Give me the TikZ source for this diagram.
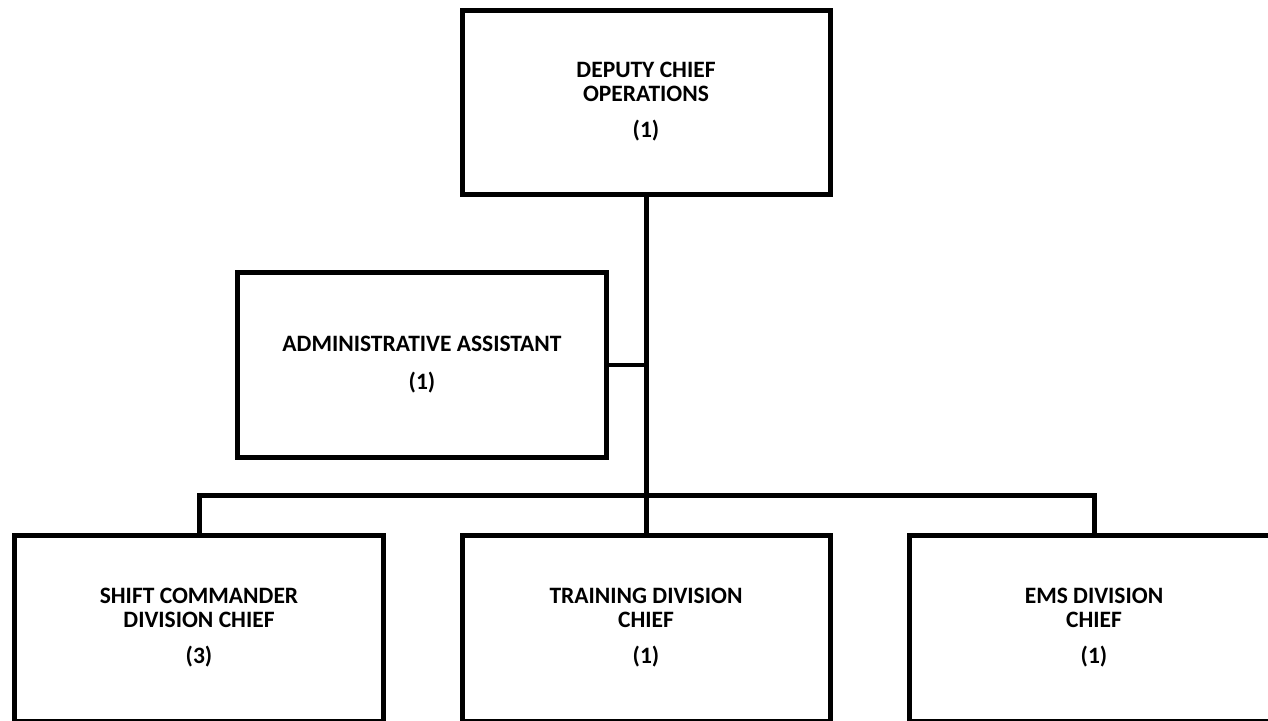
\documentclass[tikz,border=0pt]{standalone}
\usepackage{fontspec}
\setmainfont{Carlito}
\begin{document}
\begin{tikzpicture}[x=1pt,y=-1pt,
  box/.style={draw=black,line width=5pt,rectangle,minimum width=369pt,minimum height=185pt,
    align=center,inner sep=0pt,font=\bfseries\fontsize{23.5}{24}\selectfont},
  link/.style={draw=black,line width=5pt}]
\useasboundingbox (0,0) rectangle (1268,720);
\clip (0,0) rectangle (1268,720);
\node[box,minimum width=368pt,minimum height=184pt] (top) at (646,102) {DEPUTY CHIEF\\OPERATIONS\\[12pt](1)};
\node[box] (admin) at (422,365) {ADMINISTRATIVE ASSISTANT\\[14pt](1)};
\node[box,minimum height=186pt] (shift) at (199,628) {SHIFT COMMANDER\\DIVISION CHIEF\\[12pt](3)};
\node[box,minimum width=368pt,minimum height=186pt] (train) at (646,628) {TRAINING DIVISION\\CHIEF\\[12pt](1)};
\node[box,minimum height=186pt] (ems) at (1094,628) {EMS DIVISION\\CHIEF\\[12pt](1)};
\coordinate (bus) at (646,495);
\draw[link] (top.south) -- (train.north);
\draw[link,line width=4pt] (admin.east) -- (admin.east -| top.south);
\draw[link] (shift.north) |- (bus) -| (ems.north);
\end{tikzpicture}
\end{document}
